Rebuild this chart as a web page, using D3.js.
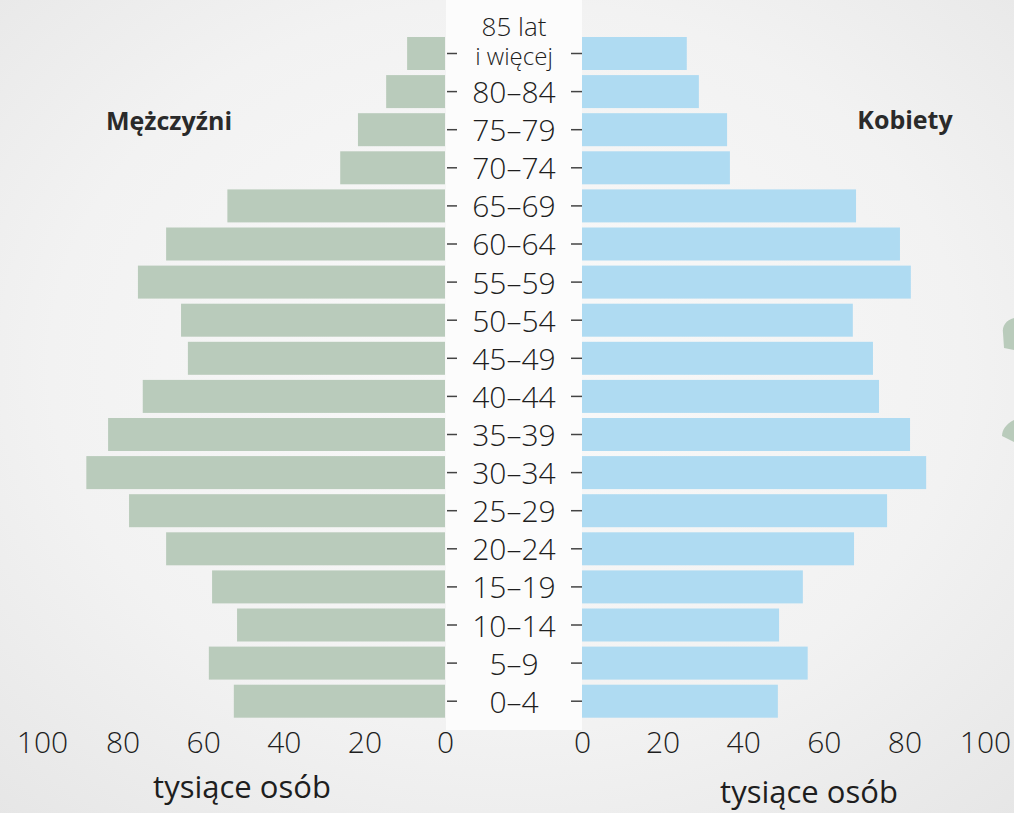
<!DOCTYPE html>
<html>
<head>
<meta charset="utf-8">
<script src="https://cdn.jsdelivr.net/npm/d3@7"></script>
<style>
  body { margin: 0; background: #f1f1f1; }
  svg { display: block; }
</style>
</head>
<body>
<svg></svg>
<script>
// Dimensions
var width = 1014;
var height = 813;

// Data (thousands of people), top row first
var ageGroups = ['85+', '80-84', '75-79', '70-74', '65-69', '60-64', '55-59', '50-54', '45-49',
  '40-44', '35-39', '30-34', '25-29', '20-24', '15-19', '10-14', '5-9', '0-4'];
var ageLabels = ['85 lat|i więcej', '80–84', '75–79', '70–74', '65–69', '60–64', '55–59', '50–54', '45–49',
  '40–44', '35–39', '30–34', '25–29', '20–24', '15–19', '10–14', '5–9', '0–4'];
var men = [9.4, 14.6, 21.6, 26.0, 54.0, 69.2, 76.2, 65.5, 63.8,
  75.0, 83.6, 89.0, 78.4, 69.2, 57.8, 51.6, 58.6, 52.4];
var women = [26.0, 29.0, 36.0, 36.7, 68.0, 78.9, 81.6, 67.2, 72.2,
  73.7, 81.4, 85.4, 75.7, 67.5, 54.8, 48.9, 56.0, 48.6];
var xTicks = [0, 20, 40, 60, 80, 100];

var fontFace = "'Open Sans', 'DejaVu Sans', sans-serif";

var svg = d3.select('svg')
  .attr('width', width)
  .attr('height', height);

// Background: soft grey with lighter patches
var defs = svg.append('defs');
var bg = defs.append('radialGradient')
  .attr('id', 'bg')
  .attr('cx', '50%').attr('cy', '45%').attr('r', '75%');
bg.append('stop').attr('offset', '0%').attr('stop-color', '#fafafa');
bg.append('stop').attr('offset', '60%').attr('stop-color', '#f2f2f2');
bg.append('stop').attr('offset', '100%').attr('stop-color', '#e6e6e6');

svg.append('rect')
  .attr('width', width)
  .attr('height', height)
  .attr('fill', 'url(#bg)');

// whiter column behind the age labels
svg.append('rect')
  .attr('x', 446).attr('y', 0)
  .attr('width', 136).attr('height', 730)
  .attr('fill', '#fcfcfc');

// leaf fragments at the right edge
svg.append('path')
  .attr('d', 'M1014,318 C1006,320 1002,326 1003,333 L1004,348 L1014,350 Z M1014,420 C1006,424 1002,430 1002,436 L1014,442 Z')
  .attr('fill', '#b9cbbb');

// Scales
var y = d3.scaleBand()
  .domain(ageGroups)
  .range([37, 717.7])
  .paddingInner(0.134)
  .paddingOuter(0);

var xLeft = d3.scaleLinear()
  .domain([0, 100])
  .range([445, 42]);

var xRight = d3.scaleLinear()
  .domain([0, 100])
  .range([582, 985]);

// Men bars
svg.append('g')
  .selectAll('rect')
  .data(men)
  .enter()
  .append('rect')
    .attr('x', function (d) { return xLeft(d); })
    .attr('y', function (d, i) { return y(ageGroups[i]); })
    .attr('width', function (d) { return xLeft(0) - xLeft(d); })
    .attr('height', y.bandwidth())
    .attr('fill', '#b9cbbb');

// Women bars
svg.append('g')
  .selectAll('rect')
  .data(women)
  .enter()
  .append('rect')
    .attr('x', xRight(0))
    .attr('y', function (d, i) { return y(ageGroups[i]); })
    .attr('width', function (d) { return xRight(d) - xRight(0); })
    .attr('height', y.bandwidth())
    .attr('fill', '#afdbf2');

// Small tick marks either side of the age labels
var tickLeft = d3.axisRight(y).tickSize(10).tickFormat('');
var tickRight = d3.axisLeft(y).tickSize(11).tickFormat('');

svg.append('g')
  .attr('transform', 'translate(447,0)')
  .call(tickLeft)
  .call(function (g) { g.select('.domain').remove(); })
  .selectAll('line').attr('stroke', '#444').attr('stroke-width', 1.5);

svg.append('g')
  .attr('transform', 'translate(582,0)')
  .call(tickRight)
  .call(function (g) { g.select('.domain').remove(); })
  .selectAll('line').attr('stroke', '#444').attr('stroke-width', 1.5);

// Age labels
var labels = svg.append('g')
  .attr('font-family', fontFace)
  .attr('font-weight', 300)
  .attr('fill', '#1e1e1e')
  .attr('text-anchor', 'middle');

ageLabels.forEach(function (lab, i) {
  var cy = y(ageGroups[i]) + y.bandwidth() / 2;
  if (lab.indexOf('|') >= 0) {
    var parts = lab.split('|');
    labels.append('text')
      .attr('x', 514).attr('y', cy - 27)
      .attr('dy', '0.35em')
      .attr('font-size', 26)
      .text(parts[0]);
    labels.append('text')
      .attr('x', 514).attr('y', cy + 3)
      .attr('dy', '0.35em')
      .attr('font-size', 24)
      .text(parts[1]);
  } else {
    labels.append('text')
      .attr('x', 514).attr('y', cy + 1)
      .attr('dy', '0.35em')
      .attr('font-size', 30)
      .text(lab);
  }
});

// Bottom axes (labels only)
var axisL = d3.axisBottom(xLeft).tickValues(xTicks).tickSize(0).tickPadding(0);
var axisR = d3.axisBottom(xRight).tickValues(xTicks).tickSize(0).tickPadding(0);

[axisL, axisR].forEach(function (ax) {
  svg.append('g')
    .attr('transform', 'translate(0,732)')
    .call(ax)
    .call(function (g) { g.select('.domain').remove(); })
    .selectAll('text')
      .attr('font-family', fontFace)
      .attr('font-weight', 300)
      .attr('font-size', 30)
      .attr('fill', '#1e1e1e');
});

// Axis titles
svg.append('text')
  .attr('x', 242).attr('y', 798)
  .attr('text-anchor', 'middle')
  .attr('font-family', fontFace)
  .attr('font-size', 31)
  .attr('fill', '#1e1e1e')
  .text('tysiące osób');

svg.append('text')
  .attr('x', 809).attr('y', 803)
  .attr('text-anchor', 'middle')
  .attr('font-family', fontFace)
  .attr('font-size', 31)
  .attr('fill', '#1e1e1e')
  .text('tysiące osób');

// Series titles
svg.append('text')
  .attr('x', 169).attr('y', 130)
  .attr('text-anchor', 'middle')
  .attr('font-family', fontFace)
  .attr('font-weight', 'bold')
  .attr('font-size', 25)
  .attr('fill', '#2a2a2a')
  .text('Mężczyźni');

svg.append('text')
  .attr('x', 905).attr('y', 129)
  .attr('text-anchor', 'middle')
  .attr('font-family', fontFace)
  .attr('font-weight', 'bold')
  .attr('font-size', 25)
  .attr('fill', '#2a2a2a')
  .text('Kobiety');
</script>
</body>
</html>
